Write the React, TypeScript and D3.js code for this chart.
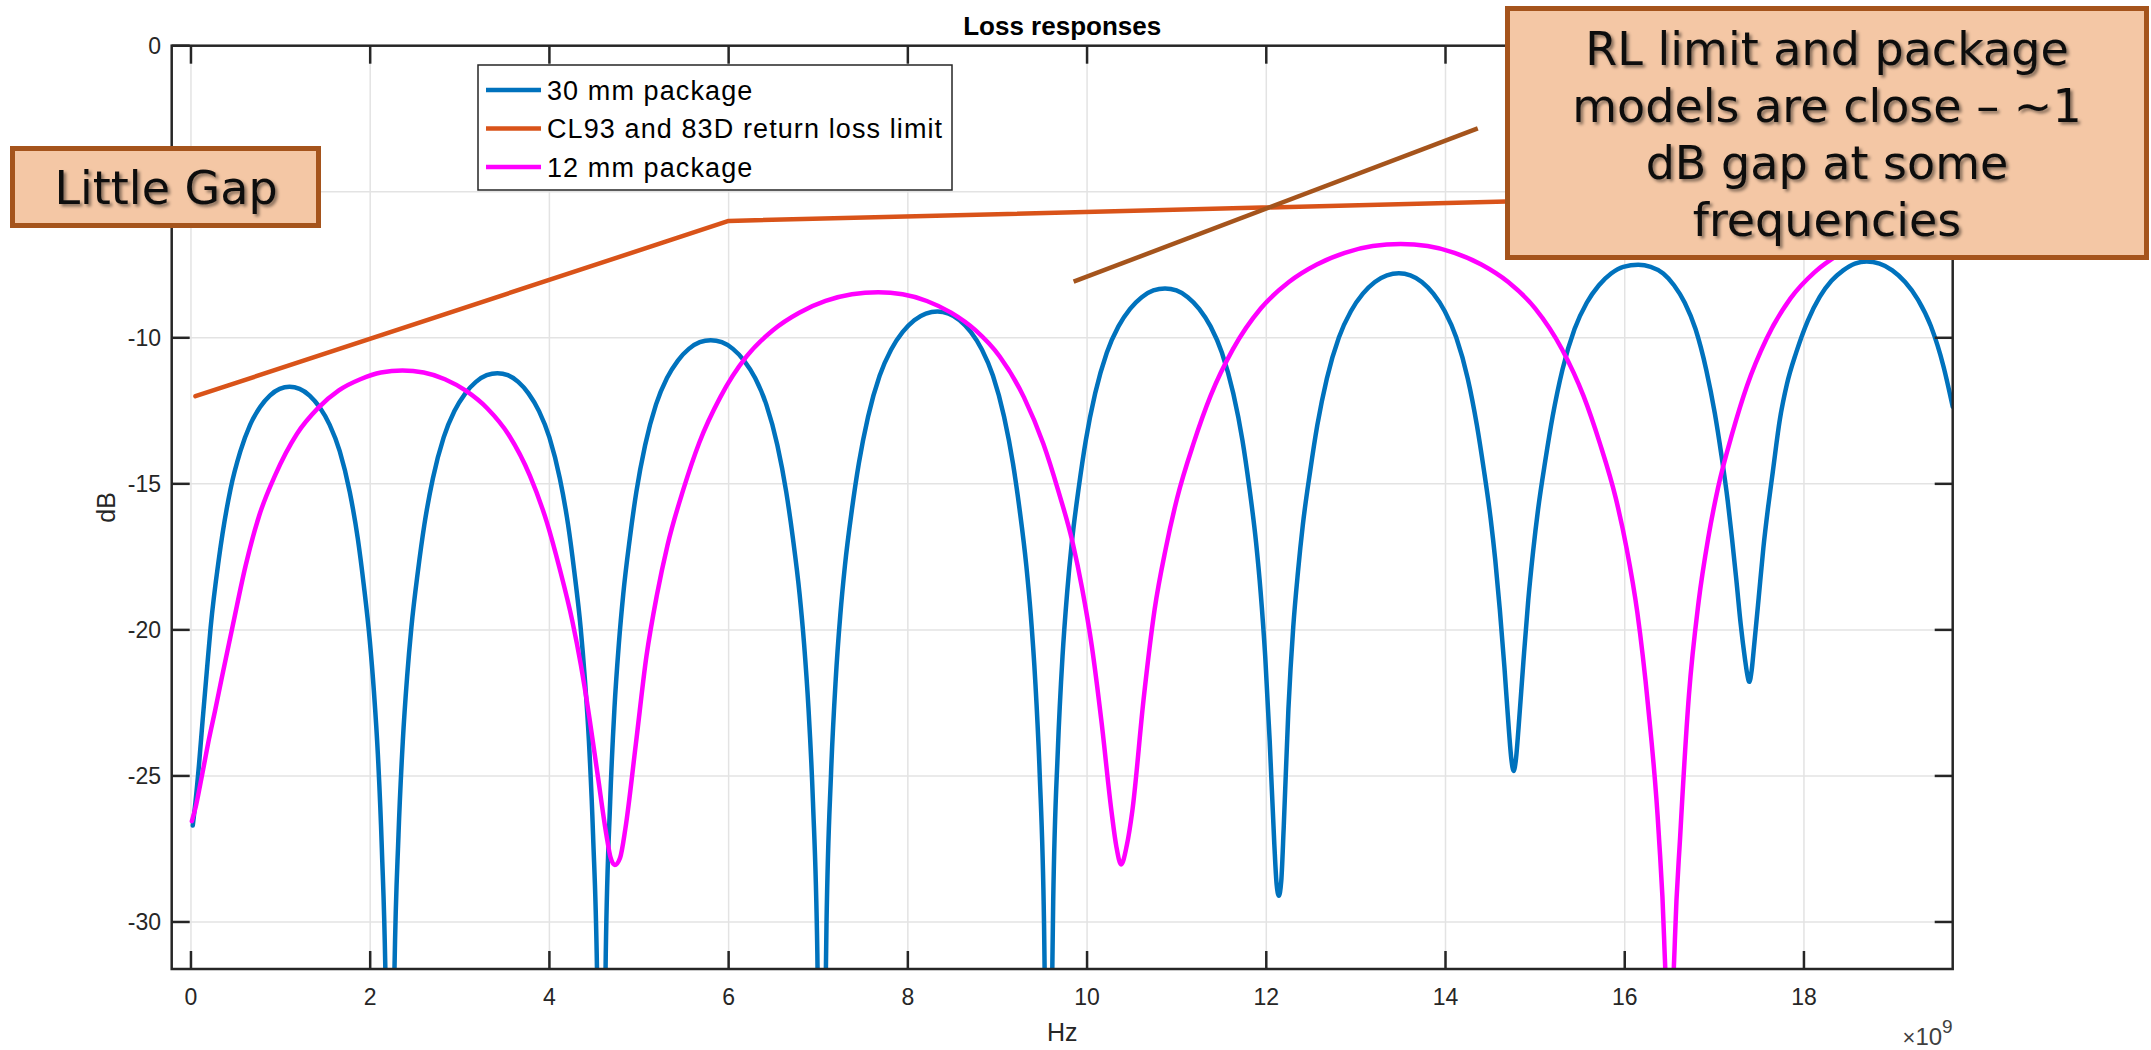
import React from "react";
import * as d3 from "d3";

// ---------- data (frequency in GHz, level in dB) ----------
const blueFreq = [
  0.02, 0.05, 0.09, 0.13, 0.18, 0.22, 0.31, 0.44, 0.55, 0.66, 0.77, 0.88, 0.99, 1.1,
  1.212, 1.324, 1.436, 1.548, 1.66, 1.772, 1.862, 1.929, 1.996, 2.041, 2.086, 2.13, 2.175, 2.198, 2.22,
  2.244, 2.268, 2.316, 2.364, 2.412, 2.46, 2.532, 2.604, 2.7, 2.82, 2.94, 3.06, 3.18, 3.3, 3.42,
  3.536, 3.652, 3.768, 3.884, 4.0, 4.116, 4.209, 4.278, 4.348, 4.394, 4.441, 4.487, 4.534, 4.557, 4.58,
  4.604, 4.629, 4.678, 4.726, 4.775, 4.824, 4.897, 4.97, 5.068, 5.19, 5.312, 5.434, 5.556, 5.678, 5.8,
  5.924, 6.048, 6.172, 6.296, 6.42, 6.544, 6.643, 6.718, 6.792, 6.842, 6.891, 6.941, 6.99, 7.015, 7.04,
  7.066, 7.092, 7.143, 7.195, 7.246, 7.298, 7.375, 7.453, 7.556, 7.685, 7.814, 7.943, 8.072, 8.201, 8.33,
  8.454, 8.578, 8.702, 8.826, 8.95, 9.074, 9.173, 9.248, 9.322, 9.372, 9.421, 9.471, 9.52, 9.545, 9.57,
  9.596, 9.622, 9.674, 9.726, 9.778, 9.83, 9.908, 9.986, 10.09, 10.22, 10.35, 10.48, 10.61, 10.74, 10.87,
  10.997, 11.124, 11.251, 11.378, 11.505, 11.632, 11.734, 11.81, 11.886, 11.937, 11.988, 12.038, 12.089, 12.115, 12.14,
  12.167, 12.194, 12.247, 12.301, 12.354, 12.408, 12.488, 12.569, 12.676, 12.81, 12.944, 13.078, 13.212, 13.346, 13.48,
  13.608, 13.736, 13.864, 13.992, 14.12, 14.248, 14.35, 14.427, 14.504, 14.555, 14.606, 14.658, 14.709, 14.734, 14.76,
  14.787, 14.814, 14.869, 14.923, 14.978, 15.032, 15.114, 15.195, 15.304, 15.44, 15.576, 15.712, 15.848, 15.984, 16.15,
  16.29, 16.43, 16.55, 16.67, 16.79, 16.91, 17.006, 17.078, 17.15, 17.198, 17.246, 17.294, 17.342, 17.366, 17.39,
  17.416, 17.442, 17.495, 17.547, 17.6, 17.652, 17.731, 17.809, 17.914, 18.045, 18.176, 18.307, 18.438, 18.569, 18.7,
  18.843, 18.986, 19.129, 19.272, 19.415, 19.558, 19.66,
];
const blueDb = [
  -26.7, -25.9, -24.6, -23.1, -21.3, -19.9, -17.6, -15.2, -13.9, -12.98, -12.38, -11.98, -11.75, -11.68,
  -11.75, -11.98, -12.38, -12.98, -13.88, -15.28, -16.88, -18.48, -20.38, -22.08, -24.28, -27.48, -32.68, -38.68, -45,
  -38.21, -32.21, -27.01, -23.81, -21.61, -19.91, -18.01, -16.41, -14.81, -13.41, -12.51, -11.91, -11.51, -11.28, -11.21,
  -11.28, -11.51, -11.91, -12.51, -13.41, -14.81, -16.41, -18.01, -19.91, -21.61, -23.81, -27.01, -32.21, -38.21, -45,
  -37.08, -31.08, -25.88, -22.68, -20.48, -18.78, -16.88, -15.28, -13.68, -12.28, -11.38, -10.78, -10.38, -10.15, -10.08,
  -10.15, -10.38, -10.78, -11.38, -12.28, -13.68, -15.28, -16.88, -18.78, -20.48, -22.68, -25.88, -31.08, -37.08, -45,
  -36.1, -30.1, -24.9, -21.7, -19.5, -17.8, -15.9, -14.3, -12.7, -11.3, -10.4, -9.8, -9.4, -9.17, -9.1,
  -9.17, -9.4, -9.8, -10.4, -11.3, -12.7, -14.3, -15.9, -17.8, -19.5, -21.7, -24.9, -30.1, -36.1, -45,
  -35.31, -29.31, -24.11, -20.91, -18.71, -17.01, -15.11, -13.51, -11.91, -10.51, -9.61, -9.01, -8.61, -8.38, -8.31,
  -8.38, -8.61, -9.01, -9.61, -10.51, -11.91, -13.51, -15.11, -17.01, -18.71, -20.91, -23.8, -27.3, -28.7, -29.1,
  -28.6, -26.8, -22.7, -19.9, -18.0, -16.4, -14.6, -13.0, -11.39, -9.99, -9.09, -8.49, -8.09, -7.86, -7.79,
  -7.86, -8.09, -8.49, -9.09, -9.99, -11.39, -12.99, -14.5, -16.2, -17.6, -19.3, -21.3, -23.5, -24.4, -24.83,
  -24.4, -23.4, -21.1, -19.0, -17.3, -15.9, -14.2, -12.7, -11.1, -9.7, -8.8, -8.2, -7.8, -7.57, -7.5,
  -7.57, -7.8, -8.2, -8.8, -9.7, -11.1, -12.6, -14.0, -15.6, -16.9, -18.3, -19.8, -21.0, -21.5, -21.78,
  -21.4, -20.6, -18.9, -17.2, -15.8, -14.6, -12.8, -11.6, -10.5, -9.4, -8.6, -8.05, -7.69, -7.46, -7.39,
  -7.46, -7.69, -8.09, -8.69, -9.59, -10.99, -12.36,
];

const magentaFreq = [
  0.01, 0.05, 0.1, 0.15, 0.2, 0.27, 0.34, 0.47, 0.61, 0.76, 0.94, 1.18, 1.42, 1.65, 1.89, 2.12, 2.36,
  2.597, 2.834, 3.071, 3.308, 3.545, 3.782, 3.972, 4.114, 4.256, 4.351, 4.446, 4.54, 4.635, 4.683, 4.73,
  4.789, 4.848, 4.965, 5.083, 5.2, 5.318, 5.494, 5.671, 5.906, 6.2, 6.494, 6.788, 7.082, 7.376, 7.67,
  7.941, 8.212, 8.483, 8.754, 9.025, 9.296, 9.513, 9.675, 9.838, 9.946, 10.055, 10.163, 10.272, 10.326, 10.38,
  10.442, 10.505, 10.63, 10.754, 10.879, 11.004, 11.191, 11.378, 11.628, 11.94, 12.252, 12.564, 12.876, 13.188, 13.5,
  13.8, 14.1, 14.4, 14.7, 15.0, 15.3, 15.54, 15.72, 15.9, 16.02, 16.14, 16.26, 16.38, 16.44, 16.47, 16.5,
  16.53, 16.56, 16.62, 16.716, 16.824, 16.932, 17.04, 17.202, 17.364, 17.58, 17.85, 18.12, 18.39, 18.66, 18.93, 19.2, 19.66,
];
const magentaDb = [
  -26.55, -26.1, -25.35, -24.55, -23.75, -22.75, -21.7, -19.8, -17.8, -16.1, -14.7, -13.3, -12.4, -11.8, -11.42, -11.19, -11.12,
  -11.19, -11.42, -11.82, -12.42, -13.32, -14.72, -16.32, -17.9, -19.7, -21.2, -23.0, -25.0, -27.0, -27.8, -28.05,
  -27.8, -26.8, -23.9, -20.9, -18.8, -17.1, -15.2, -13.6, -12.04, -10.64, -9.74, -9.14, -8.74, -8.51, -8.44,
  -8.51, -8.74, -9.14, -9.74, -10.64, -12.04, -13.64, -15.2, -17.0, -18.6, -20.6, -23.2, -26.2, -27.4, -28.03,
  -27.4, -26.2, -22.4, -19.3, -17.2, -15.5, -13.59, -11.99, -10.39, -8.99, -8.09, -7.49, -7.09, -6.86, -6.79,
  -6.86, -7.09, -7.49, -8.09, -8.99, -10.39, -11.99, -13.59, -15.49, -17.19, -19.39, -22.59, -27.0, -30.6, -34, -45,
  -34, -30.6, -27.0, -22.25, -19.05, -16.85, -15.15, -13.25, -11.65, -10.05, -8.65, -7.75, -7.15, -6.75, -6.52, -6.45, -6.6,
];

const limitFreq = [0.05, 6, 19.66];
const limitDb = [-12, -6, -4.95];

const seriesNames = ["30 mm package", "CL93 and 83D return loss limit", "12 mm package"];
const seriesColors = ["#0072BD", "#D95319", "#FF00FF"];

const xTicks = [0, 2, 4, 6, 8, 10, 12, 14, 16, 18];
const yTicks = [0, -5, -10, -15, -20, -25, -30];
// the "-5" label sits under the "Little Gap" callout in the reference, so it is not shown
const yTickLabelsShown = [0, -10, -15, -20, -25, -30];

// annotation line (data coords: GHz, dB)
const annotFreq = [9.85, 14.36];
const annotDb = [-8.08, -2.83];

const boxRLLines = ["RL limit and package", "models are close \u2013 ~1", "dB gap at some", "frequencies"];
const boxGapText = "Little Gap";

// ---------- layout ----------
const W = 2151;
const H = 1050;
const plot = { left: 171.7, right: 1952.7, top: 45.7, bottom: 969 };
const xDomain = [-0.215, 19.66];
const yDomain = [-31.61, 0];

const AX = "#262626";
const GRID = "#e3e3e3";
const BROWN = "#A5541C";
const PEACH = "#F4C7A5";

export default function App() {
  const x = d3.scaleLinear().domain(xDomain).range([plot.left, plot.right]);
  const y = d3.scaleLinear().domain(yDomain).range([plot.bottom, plot.top]);

  const line = d3
    .line<[number, number]>()
    .x((d) => x(d[0]))
    .y((d) => y(d[1]))
    .curve(d3.curveMonotoneX);
  const straight = d3
    .line<[number, number]>()
    .x((d) => x(d[0]))
    .y((d) => y(d[1]));

  const bluePts = blueFreq.map((f, i) => [f, blueDb[i]] as [number, number]);
  const magPts = magentaFreq.map((f, i) => [f, magentaDb[i]] as [number, number]);
  const limPts = limitFreq.map((f, i) => [f, limitDb[i]] as [number, number]);
  const annPts = annotFreq.map((f, i) => [f, annotDb[i]] as [number, number]);

  const tickLen = 18;
  const font = "'Liberation Sans', Arial, Helvetica, sans-serif";
  const boxFont = "'DejaVu Sans', Verdana, sans-serif";

  const legend = { x: 478, y: 65, w: 474, h: 125, rows: [90, 128.5, 167] };

  return (
    <svg
      width={W}
      height={H}
      viewBox={`0 0 ${W} ${H}`}
      style={{ position: "fixed", left: 0, top: 0, display: "block", background: "#fff" }}
    >
      <defs>
        <clipPath id="plotClip">
          <rect x={plot.left} y={plot.top} width={plot.right - plot.left} height={plot.bottom - plot.top} />
        </clipPath>
        <filter id="txtShadow" x="-10%" y="-20%" width="120%" height="150%">
          <feDropShadow dx="2.5" dy="2.5" stdDeviation="1.6" floodColor="#000" floodOpacity="0.45" />
        </filter>
      </defs>

      <rect x={0} y={0} width={W} height={H} fill="#fff" />

      {/* grid */}
      <g stroke={GRID} strokeWidth={1.5}>
        {xTicks.map((t) => (
          <line key={"gx" + t} x1={x(t)} x2={x(t)} y1={plot.top} y2={plot.bottom} />
        ))}
        {yTicks.map((t) => (
          <line key={"gy" + t} x1={plot.left} x2={plot.right} y1={y(t)} y2={y(t)} />
        ))}
      </g>

      {/* data */}
      <g clipPath="url(#plotClip)" fill="none" strokeWidth={4.5} strokeLinejoin="round" strokeLinecap="round">
        <path d={line(bluePts) || ""} stroke={seriesColors[0]} />
        <path d={straight(limPts) || ""} stroke={seriesColors[1]} />
        <path d={line(magPts) || ""} stroke={seriesColors[2]} />
      </g>

      {/* axes box and ticks */}
      <g stroke={AX} strokeWidth={2.5} fill="none">
        <rect x={plot.left} y={plot.top} width={plot.right - plot.left} height={plot.bottom - plot.top} />
        {xTicks.map((t) => (
          <g key={"tx" + t}>
            <line x1={x(t)} x2={x(t)} y1={plot.bottom} y2={plot.bottom - tickLen} />
            <line x1={x(t)} x2={x(t)} y1={plot.top} y2={plot.top + tickLen} />
          </g>
        ))}
        {yTicks.map((t) => (
          <g key={"ty" + t}>
            <line x1={plot.left} x2={plot.left + tickLen} y1={y(t)} y2={y(t)} />
            <line x1={plot.right} x2={plot.right - tickLen} y1={y(t)} y2={y(t)} />
          </g>
        ))}
      </g>

      {/* tick labels */}
      <g fill={AX} fontFamily={font} fontSize={23}>
        {xTicks.map((t) => (
          <text key={"lx" + t} x={x(t)} y={1005} textAnchor="middle">
            {String(t)}
          </text>
        ))}
        {yTickLabelsShown.map((t) => (
          <text key={"ly" + t} x={161} y={y(t) + 8} textAnchor="end">
            {String(t)}
          </text>
        ))}
      </g>
      <text x={plot.right} y={1045} textAnchor="end" fill="#404040" fontFamily={font} fontSize={24}>
        <tspan fontSize={22}>{"\u00d7"}</tspan>
        <tspan>10</tspan>
        <tspan dy={-12} fontSize={19}>9</tspan>
      </text>

      {/* axis labels and title */}
      <text x={(plot.left + plot.right) / 2} y={1041} textAnchor="middle" fill={AX} fontFamily={font} fontSize={25}>
        Hz
      </text>
      <text
        transform={`translate(115, ${(plot.top + plot.bottom) / 2}) rotate(-90)`}
        textAnchor="middle"
        fill={AX}
        fontFamily={font}
        fontSize={25}
      >
        dB
      </text>
      <text x={(plot.left + plot.right) / 2} y={35} textAnchor="middle" fill="#000" fontFamily={font} fontSize={26} fontWeight="bold">
        Loss responses
      </text>

      {/* legend */}
      <g>
        <rect x={legend.x} y={legend.y} width={legend.w} height={legend.h} fill="#fff" stroke={AX} strokeWidth={1.5} />
        {seriesNames.map((n, i) => (
          <g key={"lg" + i}>
            <line x1={486} x2={541} y1={legend.rows[i]} y2={legend.rows[i]} stroke={seriesColors[i]} strokeWidth={4.5} />
            <text x={547} y={legend.rows[i] + 9.5} fontFamily={font} fontSize={27} letterSpacing={1.1} fill="#000">
              {n}
            </text>
          </g>
        ))}
      </g>

      {/* annotation line */}
      <path d={straight(annPts) || ""} stroke={BROWN} strokeWidth={4.5} fill="none" />

      {/* Little Gap box */}
      <rect x={12.5} y={148.5} width={306} height={77} fill={PEACH} stroke={BROWN} strokeWidth={5} />
      <text x={166} y={204} textAnchor="middle" fontFamily={boxFont} fontSize={46} fill="#111" filter="url(#txtShadow)">
        {boxGapText}
      </text>

      {/* RL box */}
      <rect x={1507.5} y={8.5} width={639} height={249} fill={PEACH} stroke={BROWN} strokeWidth={5} />
      <g fontFamily={boxFont} fontSize={46} fill="#111" textAnchor="middle" filter="url(#txtShadow)">
        {boxRLLines.map((s, i) => (
          <text key={"rl" + i} x={1827} y={65 + i * 57}>
            {s}
          </text>
        ))}
      </g>
    </svg>
  );
}
